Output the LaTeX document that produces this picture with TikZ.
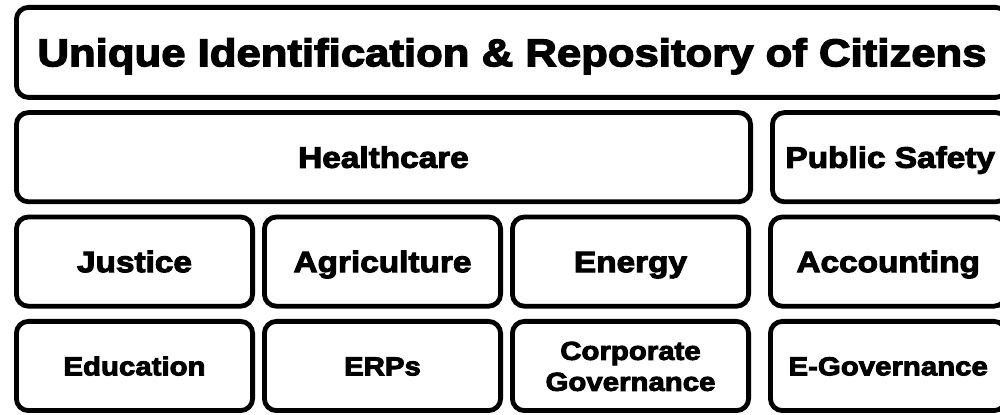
\documentclass[tikz,border=0pt]{standalone}
\usepackage{fontspec}
\setmainfont{Liberation Sans}[BoldFeatures={FakeBold=3.5,FakeStretch=1.13}]
\usetikzlibrary{positioning}

\tikzset{
  tilebox/.style={draw=black, line width=0.12cm, rounded corners=0.3cm, fill=white,
    align=center, minimum width=#1, minimum height=2.23cm, inner sep=2pt,
    text height=15pt, text depth=0pt,
    font=\fontsize{21}{23}\selectfont\bfseries},
  tilebox/.default=5.905cm,
  smalltile/.style={tilebox=#1, text height=13.3pt,
    font=\fontsize{18.5}{22}\selectfont\bfseries},
  smalltile/.default=5.905cm,
  titlebox/.style={tilebox=24.78cm, minimum height=2.25cm, text height=19.7pt,
    font=\fontsize{27.5}{30}\selectfont\bfseries},
}

\begin{document}
\begin{tikzpicture}
  \useasboundingbox (0,0) rectangle (25,-10.375);
  \clip (0,0) rectangle (25,-10.375);

  \node[titlebox, anchor=north west] (citizens) at (0.35,-0.125)
    {Unique Identification \& Repository of Citizens};

  % second row
  \node[tilebox=18.355cm, below right=0.26cm and 0cm of citizens.south west] (health) {Healthcare};
  \node[tilebox=5.89cm, right=0.425cm of health] (safety) {Public Safety};

  % third row
  \node[tilebox, below right=0.26cm and 0cm of health.south west] (justice) {Justice};
  \node[tilebox, right=0.175cm of justice] (agri) {Agriculture};
  \node[tilebox, right=0.175cm of agri] (energy) {Energy};
  \node[tilebox=5.89cm, right=0.425cm of energy] (accounting) {Accounting};

  % fourth row
  \node[smalltile, below right=0.26cm and 0cm of justice.south west] (education) {Education};
  \node[smalltile, right=0.175cm of education] (erps) {ERPs};
  \node[smalltile, right=0.175cm of erps, text height=35.3pt] (corporate) {Corporate\\Governance};
  \node[smalltile=5.89cm, right=0.425cm of corporate] (egov) {E-Governance};
\end{tikzpicture}
\end{document}
